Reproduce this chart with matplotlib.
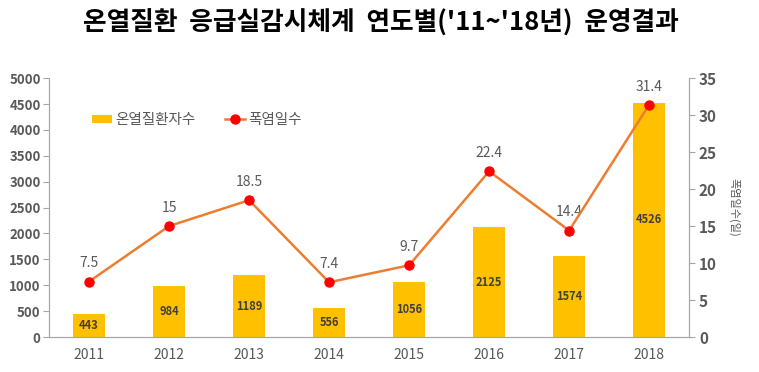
import numpy as np
import matplotlib.pyplot as plt

plt.rcParams['font.family'] = ['Noto Sans CJK KR', 'DejaVu Sans']

# ---------------------------
# 데이터
# ---------------------------
years = ["2011", "2012", "2013", "2014", "2015", "2016", "2017", "2018"]
patients = [443, 984, 1189, 556, 1056, 2125, 1574, 4526]
heat_days = [7.5, 15, 18.5, 7.4, 9.7, 22.4, 14.4, 31.4]

BAR_COLOR = "#FFC000"
LINE_COLOR = "#ED7D31"
TEXT_GRAY = "#595959"
AXIS_GRAY = "#A6A6A6"

fig = plt.figure(figsize=(7.59, 3.72), dpi=100)
ax = fig.add_axes([0.0646, 0.094, 0.8434, 0.696])
ax2 = ax.twinx()

x = np.arange(len(years))

# 막대
bars = ax.bar(x, patients, width=0.4, color=BAR_COLOR, label="온열질환자수", zorder=2)
for xi, v in zip(x, patients):
    ax.text(xi, v / 2, str(v), ha='center', va='center',
            fontsize=8, fontweight='bold', color="#404040", zorder=3)

# 선
line, = ax2.plot(x, heat_days, '-', color=LINE_COLOR, lw=1.8,
                 marker='o', markersize=6.5, markerfacecolor='#FF0000',
                 markeredgecolor='#FF0000', label="폭염일수", zorder=4)
for xi, v in zip(x, heat_days):
    ax2.annotate(f"{v:g}", (xi, v), xytext=(0, 8), textcoords='offset points',
                 ha='center', va='bottom', fontsize=10, color=TEXT_GRAY)

# ---------------------------
# 축
# ---------------------------
ax.set_xlim(-0.5, 7.5)
ax.set_ylim(0, 5000)
ax.set_yticks(np.arange(0, 5001, 500))
ax2.set_ylim(0, 35)
ax2.set_yticks(np.arange(0, 36, 5))
ax.set_xticks(x)
ax.set_xticklabels(years)

for a in (ax, ax2):
    a.spines['top'].set_visible(False)
    for s in ('left', 'right', 'bottom'):
        a.spines[s].set_color(AXIS_GRAY)
    a.tick_params(colors=AXIS_GRAY, labelcolor=TEXT_GRAY, length=4)

ax.tick_params(axis='x', length=0, labelsize=10, pad=8)
ax.tick_params(axis='y', labelsize=9.5, pad=2)
ax2.tick_params(axis='y', labelsize=11, pad=3)
for lbl in ax.get_yticklabels() + ax2.get_yticklabels():
    lbl.set_fontweight('bold')

ax2.set_ylabel("폭염일수(일)", rotation=270, fontsize=8, color=TEXT_GRAY,
               labelpad=16)

# 범례
ax.legend([bars, line], ["온열질환자수", "폭염일수"], loc='center left',
          bbox_to_anchor=(0.067, 0.838), ncol=2, frameon=False,
          borderpad=0, borderaxespad=0,
          fontsize=10.5, labelcolor=TEXT_GRAY, handlelength=1.4,
          handleheight=0.5, columnspacing=2.0, handletextpad=0.2)

fig.text(0.502, 0.937, "온열질환  응급실감시체계  연도별('11~'18년)  운영결과",
         ha='center', va='center', fontsize=18.5, fontweight='heavy',
         color='black')

fig.savefig("out.png", dpi=100)
